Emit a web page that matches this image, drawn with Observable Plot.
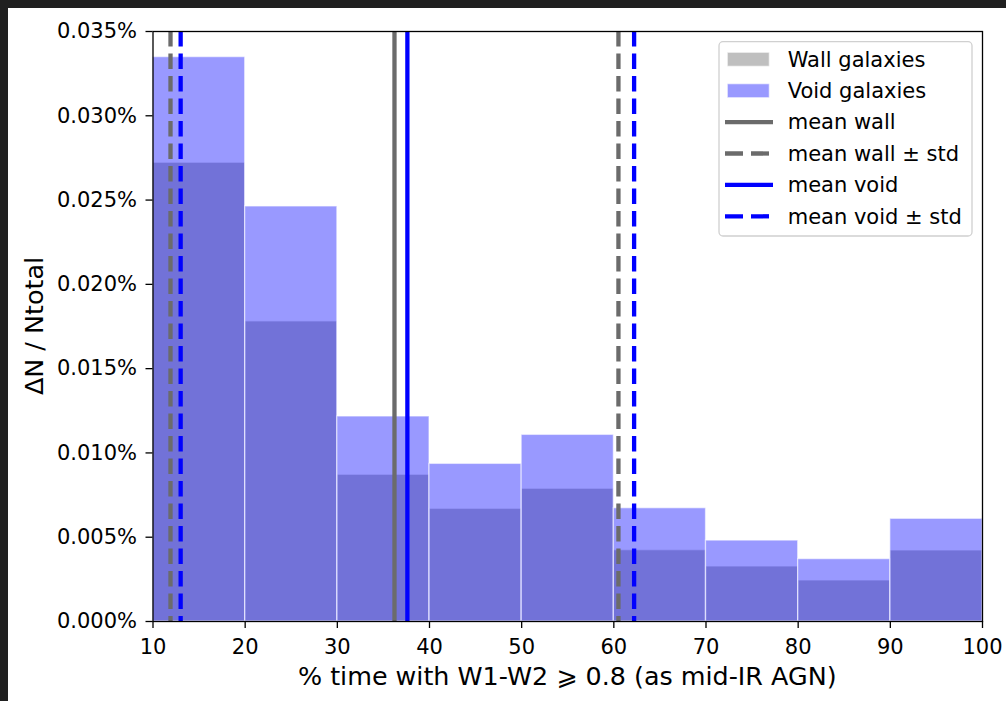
<!DOCTYPE html>
<html><head><meta charset="utf-8">
<script src="https://cdn.jsdelivr.net/npm/d3@7"></script>
<script src="https://cdn.jsdelivr.net/npm/@observablehq/plot@0.6"></script>
<style>
html,body{margin:0;padding:0;background:#202020;width:1006px;height:701px;overflow:hidden}
#chart{position:absolute;left:8px;top:8px;width:998px;height:693px;background:#fff}
svg{font-family:"DejaVu Sans",sans-serif;}
</style></head><body><div id="chart"></div>
<script>
// ---- data ----
const binEdges = [10, 20, 30, 40, 50, 60, 70, 80, 90, 100];
const wallValues = [0.02721, 0.0178, 0.0087, 0.00668, 0.00787, 0.00423, 0.00326, 0.00243, 0.00421];
const voidValues = [0.03348, 0.02462, 0.01216, 0.00935, 0.01107, 0.00672, 0.0048, 0.0037, 0.00609];
const meanWall = 36.2, stdWall = 24.3;
const meanVoid = 37.6, stdVoid = 24.6;
const xTicks = [10, 20, 30, 40, 50, 60, 70, 80, 90, 100];
const yTicks = [0, 0.005, 0.01, 0.015, 0.02, 0.025, 0.03, 0.035];
const xLabel = "% time with W1-W2 \u2a7e 0.8 (as mid-IR AGN)";
const yLabel = "\u0394N / Ntotal";
const legendLabels = ["Wall galaxies", "Void galaxies", "mean wall", "mean wall \u00b1 std", "mean void", "mean void \u00b1 std"];

const W = 998, H = 693;
const mL = 144.5, mR = 24, mT = 23, mB = 80;
const wallColor = "#808080", voidColor = "#0000ff", wallLine = "#6b6b6b";

const wallBins = wallValues.map((v, i) => ({x1: binEdges[i], x2: binEdges[i + 1], y: v}));
const voidBins = voidValues.map((v, i) => ({x1: binEdges[i], x2: binEdges[i + 1], y: v}));

const plot = Plot.plot({
  width: W, height: H,
  marginLeft: mL, marginRight: mR, marginTop: mT, marginBottom: mB,
  style: {fontFamily: "DejaVu Sans", fontSize: "21px", background: "white", color: "black", overflow: "visible"},
  x: {domain: [10, 100]},
  y: {domain: [0, 0.035]},
  marks: [
    Plot.rectY(wallBins, {x1: "x1", x2: "x2", y: "y", inset: 0, fill: wallColor, fillOpacity: 0.5, stroke: "white", strokeWidth: 1.3, strokeOpacity: 0.55}),
    Plot.rectY(voidBins, {x1: "x1", x2: "x2", y: "y", inset: 0, fill: voidColor, fillOpacity: 0.4, stroke: "white", strokeWidth: 1.3, strokeOpacity: 0.55}),
    Plot.ruleX([meanWall], {stroke: wallLine, strokeWidth: 4.3}),
    Plot.ruleX([meanWall - stdWall, meanWall + stdWall], {stroke: wallLine, strokeWidth: 4.3, strokeDasharray: "15.5,7"}),
    Plot.ruleX([meanVoid], {stroke: voidColor, strokeWidth: 4.3}),
    Plot.ruleX([meanVoid - stdVoid, meanVoid + stdVoid], {stroke: voidColor, strokeWidth: 4.3, strokeDasharray: "15.5,7"}),
    Plot.axisX({ticks: xTicks, tickSize: 7, tickPadding: 11, label: null, fontSize: 21, strokeWidth: 1.3}),
    Plot.axisY({ticks: yTicks, tickFormat: d => d.toFixed(3) + "%", tickSize: 7, tickPadding: 9, label: null, fontSize: 21, strokeWidth: 1.3}),
    Plot.frame({stroke: "black", strokeWidth: 1.3})
  ]
});
document.getElementById("chart").appendChild(plot);

const svg = d3.select(plot);
// axis labels
svg.append("text")
  .attr("x", (mL + W - mR) / 2).attr("y", 677)
  .attr("text-anchor", "middle").attr("font-size", 25.4).attr("fill", "black")
  .text(xLabel);
svg.append("text")
  .attr("transform", `translate(35,${(mT + H - mB) / 2}) rotate(-90)`)
  .attr("text-anchor", "middle").attr("font-size", 25.4).attr("fill", "black")
  .text(yLabel);

// legend
const lg = svg.append("g").attr("text-anchor", "start");
lg.append("rect").attr("x", 711).attr("y", 33.7).attr("width", 253).attr("height", 194.3)
  .attr("rx", 4).attr("fill", "white").attr("fill-opacity", 0.8)
  .attr("stroke", "#d0d0d0").attr("stroke-width", 1.3);
const handles = [
  {type: "patch", color: wallColor, op: 0.5},
  {type: "patch", color: voidColor, op: 0.4},
  {type: "line", color: wallLine, dash: null},
  {type: "line", color: wallLine, dash: "18,8"},
  {type: "line", color: voidColor, dash: null},
  {type: "line", color: voidColor, dash: "18,8"}
];
legendLabels.forEach((lab, i) => {
  const cy = 51.3 + i * 31.4;
  const h = handles[i];
  if (h.type === "patch") {
    lg.append("rect").attr("x", 719.3).attr("y", cy - 7).attr("width", 42).attr("height", 14)
      .attr("fill", h.color).attr("fill-opacity", h.op)
      .attr("stroke", "white").attr("stroke-opacity", 0.55).attr("stroke-width", 1.3);
  } else {
    const l = lg.append("line").attr("x1", 717).attr("x2", 765).attr("y1", cy).attr("y2", cy)
      .attr("stroke", h.color).attr("stroke-width", 4.3);
    if (h.dash) l.attr("stroke-dasharray", h.dash);
  }
  lg.append("text").attr("x", 779.7).attr("y", cy).attr("dy", "0.35em")
    .attr("text-anchor", "start")
    .attr("font-size", 21).attr("fill", "black").text(lab);
});
</script>
</body></html>
